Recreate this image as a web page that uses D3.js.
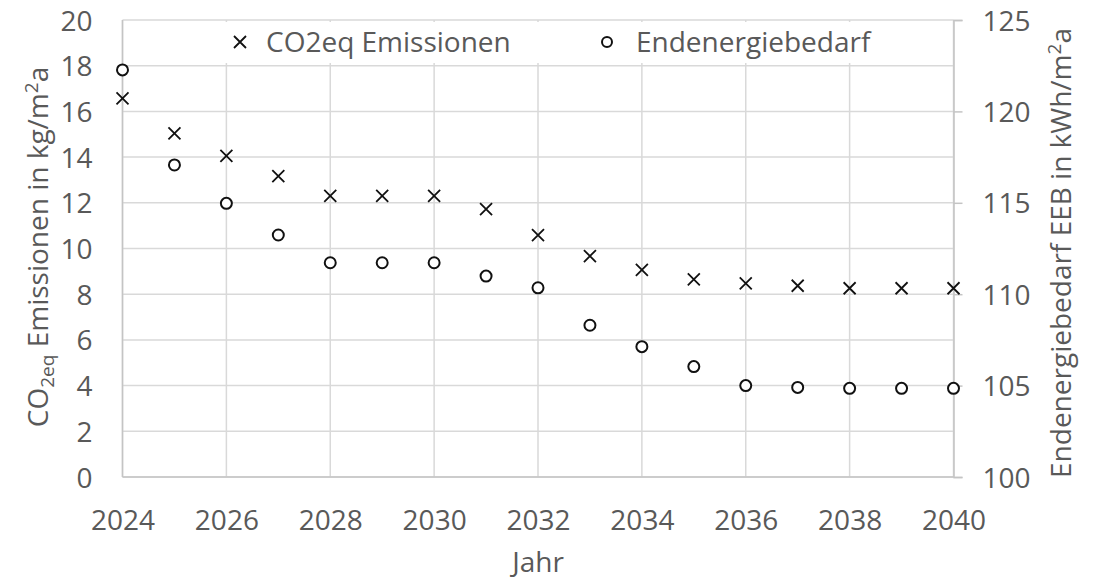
<!DOCTYPE html>
<html>
<head>
<meta charset="utf-8">
<script src="https://cdn.jsdelivr.net/npm/d3@7"></script>
<style>
  html, body { margin: 0; padding: 0; background: #fff; }
  svg { display: block; font-family: "Open Sans", sans-serif; }
</style>
</head>
<body>
<svg id="chart" width="1102" height="579"></svg>
<script>
// ---- data ----
const years = [2024, 2025, 2026, 2027, 2028, 2029, 2030, 2031, 2032, 2033, 2034, 2035, 2036, 2037, 2038, 2039, 2040];
const co2 = [16.57, 15.04, 14.05, 13.17, 12.3, 12.3, 12.3, 11.72, 10.59, 9.67, 9.06, 8.65, 8.47, 8.37, 8.26, 8.26, 8.26];
const eeb = [122.27, 117.07, 114.97, 113.24, 111.72, 111.72, 111.72, 110.99, 110.35, 108.3, 107.13, 106.04, 105.0, 104.9, 104.85, 104.85, 104.85];
const xTicks = [2024, 2026, 2028, 2030, 2032, 2034, 2036, 2038, 2040];
const yLeftTicks = [0, 2, 4, 6, 8, 10, 12, 14, 16, 18, 20];
const yRightTicks = [100, 105, 110, 115, 120, 125];
const legendLabels = ["CO2eq Emissionen", "Endenergiebedarf"];

(function () {
// ---- layout ----
const svg = d3.select("#chart");
const pL = 122.5, pR = 953.5, pT = 20, pB = 477;
const textColor = "#595959";
const gridColor = "#d9d9d9";
const axisColor = "#c4c4c4";
const fs = 28;

const x = d3.scaleLinear().domain([2024, 2040]).range([pL, pR]);
const yL = d3.scaleLinear().domain([0, 20]).range([pB, pT]);
const yR = d3.scaleLinear().domain([100, 125]).range([pB, pT]);

// gridlines
const grid = svg.append("g");
grid.selectAll("line.h").data(yLeftTicks).join("line").attr("class", "h")
  .attr("x1", pL).attr("x2", pR)
  .attr("y1", d => yL(d)).attr("y2", d => yL(d))
  .attr("stroke", gridColor).attr("stroke-width", 1.5);
grid.selectAll("line.v").data(xTicks).join("line").attr("class", "v")
  .attr("x1", d => x(d)).attr("x2", d => x(d))
  .attr("y1", pT).attr("y2", pB)
  .attr("stroke", gridColor).attr("stroke-width", 1.5);

// axis lines
svg.append("line").attr("x1", pL).attr("x2", pL).attr("y1", pT).attr("y2", pB)
  .attr("stroke", axisColor).attr("stroke-width", 1.5);
svg.append("line").attr("x1", pL).attr("x2", pR).attr("y1", pB).attr("y2", pB)
  .attr("stroke", axisColor).attr("stroke-width", 1.5);

// left axis labels
const axL = svg.append("g").attr("transform", `translate(${pL - 30},0)`)
  .call(d3.axisLeft(yL).tickValues(yLeftTicks).tickSize(0).tickPadding(0));
axL.select(".domain").remove();
axL.selectAll("text").attr("font-size", fs).attr("fill", textColor)
  .attr("font-family", "Open Sans").attr("dy", "0.36em");

// right axis
const axR = svg.append("g").attr("transform", `translate(${pR},0)`)
  .call(d3.axisRight(yR).tickValues(yRightTicks).tickSize(9).tickPadding(20));
axR.select(".domain").attr("stroke", axisColor).attr("stroke-width", 1.5);
axR.selectAll(".tick line").attr("stroke", axisColor).attr("stroke-width", 1.5);
axR.selectAll("text").attr("font-size", fs).attr("fill", textColor)
  .attr("font-family", "Open Sans").attr("dy", "0.36em");

// bottom axis labels
const axB = svg.append("g").attr("transform", `translate(0,${pB})`)
  .call(d3.axisBottom(x).tickValues(xTicks).tickFormat(d3.format("d")).tickSize(0).tickPadding(0));
axB.select(".domain").remove();
axB.selectAll("text").attr("font-size", fs).attr("fill", textColor)
  .attr("font-family", "Open Sans").attr("dy", null).attr("y", 53);

// axis titles
svg.append("text").attr("x", (pL + pR) / 2).attr("y", 572)
  .attr("text-anchor", "middle").attr("font-size", fs).attr("fill", textColor).text("Jahr");

function centre(t, c) {
  const len = t.node().getComputedTextLength();
  t.attr("x", -len / 2);
}

const lt = svg.append("text")
  .attr("transform", `translate(48,247) rotate(-90)`)
  .attr("text-anchor", "start").attr("font-size", fs).attr("fill", textColor);
lt.append("tspan").text("CO");
lt.append("tspan").attr("font-size", 19).attr("dy", 6).text("2eq");
lt.append("tspan").attr("dy", -6).text(" Emissionen in kg/m");
lt.append("tspan").attr("font-size", 19).attr("dy", -10).text("2");
lt.append("tspan").attr("dy", 10).text("a");
centre(lt);

const rt = svg.append("text")
  .attr("transform", `translate(1071,253) rotate(-90)`)
  .attr("text-anchor", "start").attr("font-size", fs).attr("fill", textColor);
rt.append("tspan").text("Endenergiebedarf EEB in kWh/m");
rt.append("tspan").attr("font-size", 19).attr("dy", -10).text("2");
rt.append("tspan").attr("dy", 10).text("a");
centre(rt);

// legend box
svg.append("rect").attr("x", 200).attr("y", 22).attr("width", 747).attr("height", 41).attr("fill", "#fff");

function cross(g, cx, cy) {
  const s = 6;
  g.append("path").attr("d", `M${cx - s},${cy - s}L${cx + s},${cy + s}M${cx - s},${cy + s}L${cx + s},${cy - s}`)
    .attr("stroke", "#111").attr("stroke-width", 1.8).attr("fill", "none");
}

// marks
const marks = svg.append("g");
years.forEach((yr, i) => cross(marks, x(yr), yL(co2[i])));
marks.selectAll("circle").data(years).join("circle")
  .attr("cx", d => x(d)).attr("cy", (d, i) => yR(eeb[i])).attr("r", 5.5)
  .attr("fill", "#fff").attr("stroke", "#111").attr("stroke-width", 2);

// legend
const lg = svg.append("g");
cross(lg, 240, 42);
lg.append("text").attr("x", 266).attr("y", 52).attr("font-size", fs).attr("fill", textColor).text(legendLabels[0]);
lg.append("circle").attr("cx", 607).attr("cy", 42).attr("r", 5).attr("fill", "#fff").attr("stroke", "#111").attr("stroke-width", 2);
lg.append("text").attr("x", 636).attr("y", 52).attr("font-size", fs).attr("fill", textColor).text(legendLabels[1]);
})();
</script>
</body>
</html>
